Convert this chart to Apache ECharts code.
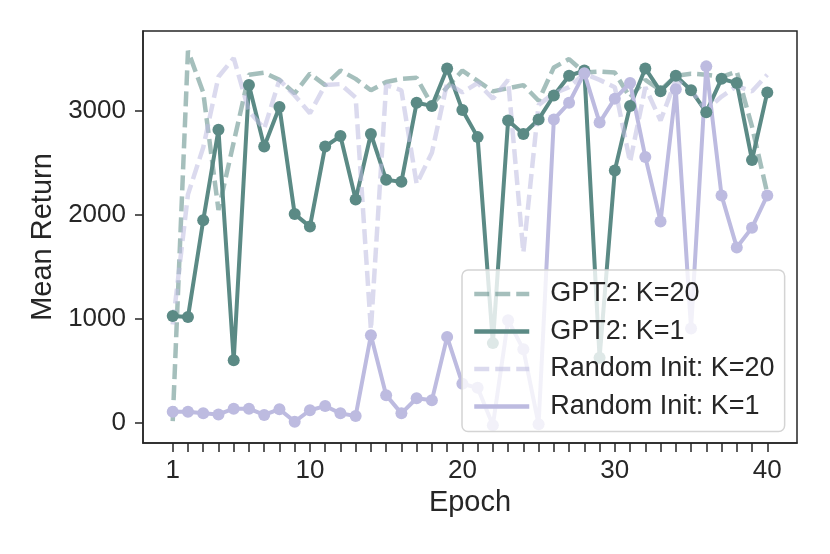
<!DOCTYPE html>
<html>
<head>
<meta charset="utf-8">
<script src="https://cdn.jsdelivr.net/npm/echarts@6/dist/echarts.min.js"></script>
<style>
  html, body { margin: 0; padding: 0; background: #fff; }
  #main { width: 830px; height: 554px; }
</style>
</head>
<body>
<div id="main"></div>
<script>
// epochs on the x axis
var epochs = [1,2,3,4,5,6,7,8,9,10,11,12,13,14,15,16,17,18,19,20,
              21,22,23,24,25,26,27,28,29,30,31,32,33,34,35,36,37,38,39,40];
var xTickLabels = [1, 10, 20, 30, 40];
var yTickLabels = [0, 1000, 2000, 3000];

// mean return per epoch
var gpt2K20 = [20,3580,3180,2050,2700,3350,3370,3300,3170,3360,3250,3390,3310,3200,3280,3310,3320,3060,3230,3390,
               3290,3190,3220,3250,3100,3420,3500,3370,3380,3370,3130,3300,3200,3340,3360,3350,3330,3380,2850,2210];
var gpt2K1 = [1030,1020,1950,2820,605,3250,2660,3040,2010,1890,2660,2760,2150,2780,2340,2320,3080,3050,3410,3010,
              2750,770,2910,2780,2920,3150,3340,3390,630,2430,3050,3410,3190,3340,3200,2990,3310,3270,2530,3180];
var randK20 = [950,2200,2650,3330,3510,3000,2830,3300,3150,2980,3250,3260,3130,900,3250,3200,2300,2600,3270,3180,
               3270,3120,3300,1640,3060,3170,3230,3360,3300,3230,2510,3230,2910,3300,3200,3010,3140,3240,3190,3350];
var randK1 = [110,110,95,85,140,140,80,135,15,125,165,95,70,845,270,95,240,220,830,380,
              340,-20,990,710,-10,2920,3080,3365,2890,3120,3270,2560,1940,3210,910,3430,2190,1690,1880,2190];

var teal = '#5b8a85'
var lav = '#bdbbe0'
var ink = '#262626'
var fnt = '"Liberation Sans", Arial, sans-serif'

function pairs(vals) {
  var out = []
  for (var i = 0; i < epochs.length; i++) {
    out.push([epochs[i], vals[i]])
  }
  return out
}

function dashed(name, vals, color) {
  return {
    name: name, type: 'line', data: pairs(vals),
    showSymbol: false, symbol: 'none',
    lineStyle: { color: color, width: 4.5, type: [15, 6], opacity: 0.55 },
    itemStyle: { color: color, opacity: 0.55 }
  }
}

function solid(name, vals, color) {
  return {
    name: name, type: 'line', data: pairs(vals),
    symbol: 'circle', symbolSize: 12,
    lineStyle: { color: color, width: 4 },
    itemStyle: { color: color }
  }
}

var myChart = echarts.init(document.getElementById('main'))

var option = {
  animation: false,
  textStyle: { fontFamily: fnt },
  grid: {
    left: 143, right: 33, top: 31, bottom: 111,
    show: true, borderColor: ink, borderWidth: 1.5
  },
  xAxis: {
    type: 'value', min: -0.95, max: 41.95,
    name: 'Epoch', nameLocation: 'middle', nameGap: 44,
    nameTextStyle: { fontSize: 29, color: ink, fontFamily: fnt },
    axisLine: { show: true, onZero: false, lineStyle: { color: ink, width: 1.5 } },
    axisTick: { show: true, length: 9, customValues: epochs, lineStyle: { color: ink, width: 1.5 } },
    axisLabel: { customValues: xTickLabels, fontSize: 26, color: ink, margin: 15, fontFamily: fnt,
      formatter: function (v) { return String(v) } },
    splitLine: { show: false }
  },
  yAxis: {
    type: 'value', min: -190, max: 3770,
    name: 'Mean Return', nameLocation: 'middle', nameGap: 82,
    nameTextStyle: { fontSize: 29, color: ink, fontFamily: fnt },
    axisLine: { show: true, onZero: false, lineStyle: { color: ink, width: 1.5 } },
    axisTick: { show: true, length: 8, customValues: yTickLabels, lineStyle: { color: ink, width: 1.5 } },
    axisLabel: { customValues: yTickLabels, fontSize: 26, color: ink, margin: 17, fontFamily: fnt,
      formatter: function (v) { return String(v) } },
    splitLine: { show: false }
  },
  legend: {
    orient: 'vertical', left: 462, top: 270,
    padding: [9, 10, 10, 10],
    itemWidth: 55, itemHeight: 14, itemGap: 7.5,
    backgroundColor: 'rgba(255,255,255,0.8)',
    borderColor: '#d4d4d4', borderWidth: 1.5, borderRadius: 6,
    itemStyle: { opacity: 0 },
    lineStyle: { width: 4.5 },
    textStyle: { fontSize: 27, color: ink, lineHeight: 30, padding: [0, 0, 0, 16], fontFamily: fnt },
    data: ['GPT2: K=20', 'GPT2: K=1', 'Random Init: K=20', 'Random Init: K=1']
  },
  series: [
    dashed('GPT2: K=20', gpt2K20, teal),
    solid('GPT2: K=1', gpt2K1, teal),
    dashed('Random Init: K=20', randK20, lav),
    solid('Random Init: K=1', randK1, lav)
  ]
}

myChart.setOption(option)
</script>
</body>
</html>
